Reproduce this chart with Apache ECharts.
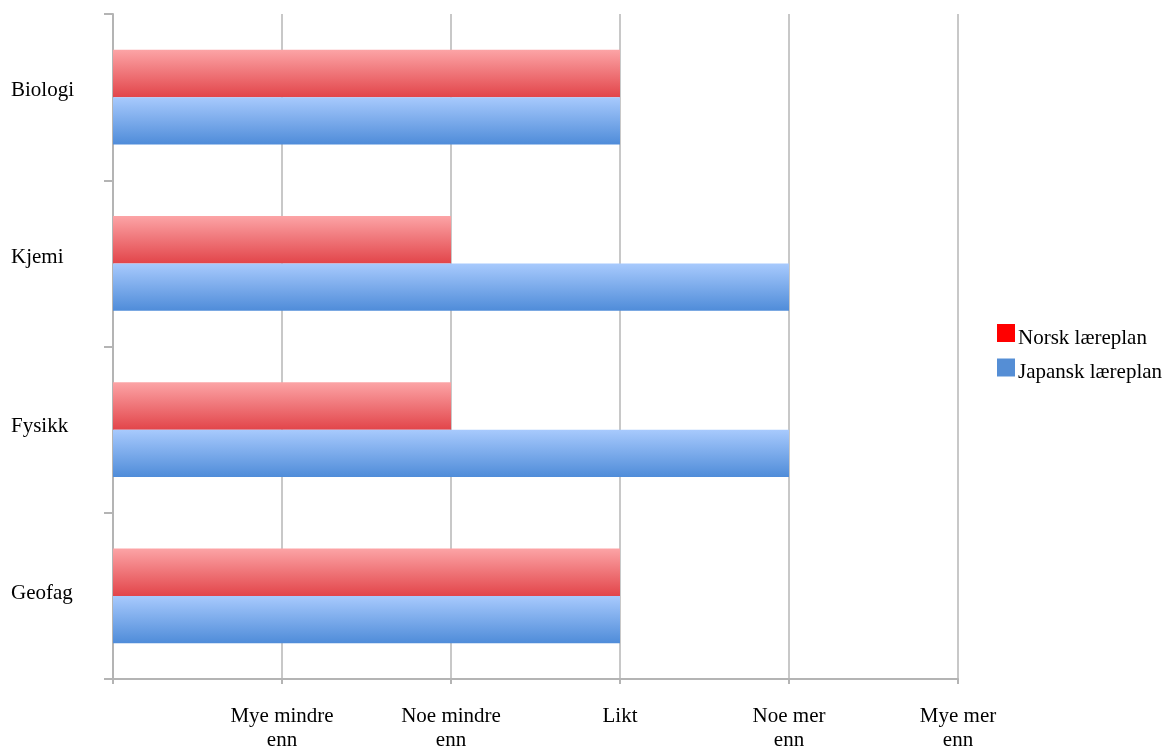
<!DOCTYPE html>
<html>
<head>
<meta charset="utf-8">
<script src="https://cdn.jsdelivr.net/npm/echarts@6/dist/echarts.min.js"></script>
<style>
  html, body { margin: 0; padding: 0; background: #fff; }
  #chart { width: 1168px; height: 747px; }
</style>
</head>
<body>
<div id="chart"></div>
<script>
// Subjects, top to bottom
const subjects = ['Biologi', 'Kjemi', 'Fysikk', 'Geofag'];
// Scale steps 0..5; step 0 has no label
const scaleLabels = ['', 'Mye mindre\nenn', 'Noe mindre\nenn', 'Likt', 'Noe mer\nenn', 'Mye mer\nenn'];
// Rating per subject
const norskValues = [3, 2, 2, 3];
const japanskValues = [3, 4, 4, 3];

const font = 'Liberation Serif';

function grad(top, bottom) {
  return new echarts.graphic.LinearGradient(0, 0, 0, 1, [
    { offset: 0, color: top },
    { offset: 1, color: bottom }
  ]);
}

// Category labels sit slightly above the band centres, a little more near the top
const labelLift = [14, 11, 7, 4];
const subjectRich = {};
labelLift.forEach((lift, i) => {
  subjectRich['c' + i] = {
    fontFamily: font, fontSize: 21, color: '#000', padding: [0, 0, lift, 0]
  };
});

const chart = echarts.init(document.getElementById('chart'));
chart.setOption({
  animation: false,
  textStyle: { fontFamily: font },
  grid: {
    left: 113, right: 210, top: 14, bottom: 68,
    containLabel: false,
    outerBoundsMode: 'none'
  },
  legend: {
    orient: 'vertical',
    left: 997,
    top: 324,
    padding: 0,
    itemWidth: 18,
    itemHeight: 18,
    itemGap: 10,
    icon: 'rect',
    formatter: name => '{t|' + name + '}',
    textStyle: {
      fontFamily: font, fontSize: 21, color: '#000',
      rich: { t: { fontFamily: font, fontSize: 21, color: '#000', padding: [10, 0, 0, -2] } }
    },
    data: [
      { name: 'Norsk læreplan', itemStyle: { color: '#ff0000' } },
      { name: 'Japansk læreplan', itemStyle: { color: '#558ed5' } }
    ]
  },
  xAxis: {
    type: 'value',
    min: 0,
    max: 5,
    interval: 1,
    axisLine: { show: true, lineStyle: { color: '#b4b4b4', width: 2 } },
    axisTick: { show: true, length: 5, lineStyle: { color: '#b4b4b4', width: 2 } },
    splitLine: { show: true, lineStyle: { color: '#c8c8c8', width: 2 } },
    axisLabel: {
      margin: 25,
      fontFamily: font,
      fontSize: 21,
      color: '#000',
      lineHeight: 24,
      verticalAlign: 'top',
      formatter: v => scaleLabels[v] || ''
    }
  },
  yAxis: {
    type: 'category',
    inverse: true,
    data: subjects,
    axisLine: { show: true, lineStyle: { color: '#b4b4b4', width: 2 } },
    axisTick: { show: true, length: 9, lineStyle: { color: '#b4b4b4', width: 2 } },
    axisLabel: {
      margin: 102,
      align: 'left',
      fontFamily: font,
      fontSize: 21,
      color: '#000',
      formatter: (value, index) => '{c' + index + '|' + value + '}',
      rich: subjectRich
    }
  },
  series: [
    {
      name: 'Norsk læreplan',
      type: 'bar',
      data: norskValues,
      barGap: '0%',
      barCategoryGap: '43%',
      itemStyle: { color: grad('#fca4a6', '#e2454a') }
    },
    {
      name: 'Japansk læreplan',
      type: 'bar',
      data: japanskValues,
      barGap: '0%',
      barCategoryGap: '43%',
      itemStyle: { color: grad('#a8cafd', '#4f8cd9') }
    }
  ]
});
</script>
</body>
</html>
